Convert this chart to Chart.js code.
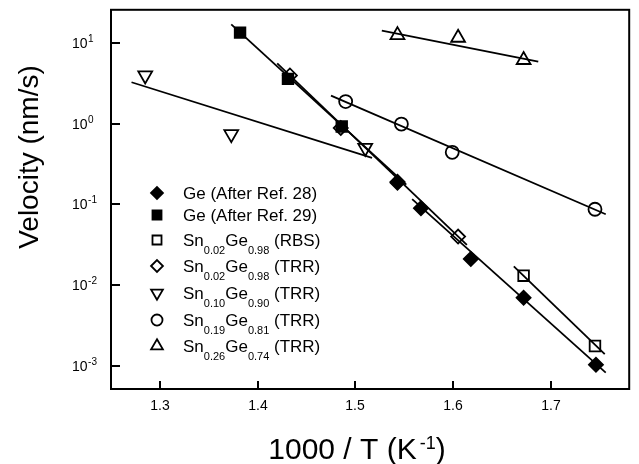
<!DOCTYPE html>
<html>
<head>
<meta charset="utf-8">
<script src="https://cdn.jsdelivr.net/npm/chart.js@4/dist/chart.umd.min.js"></script>
<style>
  html, body { margin: 0; padding: 0; background: #fff; }
  #wrap { width: 639px; height: 464px; position: relative; }
</style>
</head>
<body>
<div id="wrap"><canvas id="velChart"></canvas></div>
<script>
// --- 데이터 ---
const ge28X = [1.543, 1.567, 1.618, 1.672, 1.746];
const ge28Y = [0.19, 0.0895, 0.0211, 0.0070, 0.00104];
const ge29X = [1.382, 1.431, 1.486];
const ge29Y = [13.3, 3.57, 0.92];
const rbs02X = [1.672, 1.745];
const rbs02Y = [0.0131, 0.00177];
const trr02X = [1.433, 1.485, 1.543, 1.605];
const trr02Y = [3.93, 0.88, 0.185, 0.040];
const trr10X = [1.285, 1.373, 1.510];
const trr10Y = [3.93, 0.74, 0.50];
const trr19X = [1.490, 1.547, 1.599, 1.745];
const trr19Y = [1.87, 0.985, 0.44, 0.087];
const trr26X = [1.543, 1.605, 1.672];
const trr26Y = [12.4, 11.5, 6.1];

// 피팅 직선 (양 끝점)
const fit29X = [1.373, 1.552];   const fit29Y = [16.8, 0.175];
const fit28X = [1.558, 1.756];   const fit28Y = [0.116, 0.00083];
const fitRbsX = [1.662, 1.755];  const fitRbsY = [0.0171, 0.0014];
const fit02X = [1.420, 1.614];   const fit02Y = [5.56, 0.0315];
const fit10X = [1.271, 1.517];   const fit10Y = [3.24, 0.376];
const fit19X = [1.475, 1.756];   const fit19Y = [2.21, 0.0755];
const fit26X = [1.527, 1.687];   const fit26Y = [14.1, 5.84];

// 축 눈금
const xTicks = [1.3, 1.4, 1.5, 1.6, 1.7];
const yTickExp = [1, 0, -1, -2, -3];

// 범례 (_{...} = 아래첨자)
const legendLabels = [
  'Ge (After Ref. 28)',
  'Ge (After Ref. 29)',
  'Sn_{0.02}Ge_{0.98} (RBS)',
  'Sn_{0.02}Ge_{0.98} (TRR)',
  'Sn_{0.10}Ge_{0.90} (TRR)',
  'Sn_{0.19}Ge_{0.81} (TRR)',
  'Sn_{0.26}Ge_{0.74} (TRR)'
];

const FONT = '"Liberation Sans", Arial, Helvetica, sans-serif';
const pts = (xs, ys) => xs.map((x, i) => ({ x: x, y: ys[i] }));

// 마커 스타일
const markers = [
  { pointStyle: 'rectRot', radius: 7, rotation: 0, fill: true },
  { pointStyle: 'rect', radius: 7.5, rotation: 0, fill: true },
  { pointStyle: 'rect', radius: 7.5, rotation: 0, fill: false },
  { pointStyle: 'rectRot', radius: 7, rotation: 0, fill: false },
  { pointStyle: 'triangle', radius: 8, rotation: 180, fill: false },
  { pointStyle: 'circle', radius: 6.5, rotation: 0, fill: false },
  { pointStyle: 'triangle', radius: 8, rotation: 0, fill: false }
];
const pointSeries = [
  pts(ge28X, ge28Y), pts(ge29X, ge29Y), pts(rbs02X, rbs02Y), pts(trr02X, trr02Y),
  pts(trr10X, trr10Y), pts(trr19X, trr19Y), pts(trr26X, trr26Y)
];
const fitSeries = [
  pts(fit29X, fit29Y), pts(fit28X, fit28Y), pts(fitRbsX, fitRbsY), pts(fit02X, fit02Y),
  pts(fit10X, fit10Y), pts(fit19X, fit19Y), pts(fit26X, fit26Y)
];

const datasets = [];
fitSeries.forEach(d => {
  datasets.push({
    type: 'line', data: d, borderColor: '#000', borderWidth: 1.8,
    pointRadius: 0, fill: false, order: 2
  });
});
pointSeries.forEach((d, i) => {
  const m = markers[i];
  datasets.push({
    type: 'scatter', data: d,
    pointStyle: m.pointStyle, pointRadius: m.radius, pointRotation: m.rotation,
    pointBackgroundColor: m.fill ? '#000' : 'rgba(0,0,0,0)',
    pointBorderColor: '#000', pointBorderWidth: 1.8, order: 1
  });
});

// 아래첨자 포함 텍스트 그리기
function drawRichText(ctx, str, x, y, size, subSize, subDrop) {
  const parts = str.split(/(_\{[^}]*\})/).filter(s => s.length);
  parts.forEach(p => {
    if (p.startsWith('_{')) {
      const t = p.slice(2, -1);
      ctx.font = subSize + 'px ' + FONT;
      ctx.fillText(t, x, y + subDrop);
      x += ctx.measureText(t).width;
    } else {
      ctx.font = size + 'px ' + FONT;
      ctx.fillText(p, x, y);
      x += ctx.measureText(p).width;
    }
  });
}

const framePlugin = {
  id: 'frame',
  afterDraw(chart) {
    const { ctx, chartArea: { left, right, top, bottom } } = chart;
    const xs = chart.scales.x, ys = chart.scales.y;
    ctx.save();
    ctx.strokeStyle = '#000';
    ctx.fillStyle = '#000';
    ctx.lineWidth = 2;
    ctx.strokeRect(left, top, right - left, bottom - top);

    // x 눈금 (안쪽)
    ctx.textAlign = 'center';
    ctx.textBaseline = 'middle';
    ctx.font = '14px ' + FONT;
    xTicks.forEach(v => {
      const px = Math.round(xs.getPixelForValue(v));
      ctx.beginPath();
      ctx.moveTo(px, bottom);
      ctx.lineTo(px, bottom - 8);
      ctx.stroke();
      ctx.fillText(v.toFixed(1), px, bottom + 17);
    });

    // y 눈금 (안쪽) + 10^n 라벨
    ctx.textAlign = 'left';
    ctx.textBaseline = 'alphabetic';
    yTickExp.forEach(e => {
      const py = Math.round(ys.getPixelForValue(Math.pow(10, e)));
      ctx.beginPath();
      ctx.moveTo(left, py);
      ctx.lineTo(left + 9, py);
      ctx.stroke();
      ctx.font = '14px ' + FONT;
      ctx.fillText('10', 72, py + 5);
      const w = ctx.measureText('10').width;
      ctx.font = '10px ' + FONT;
      ctx.fillText(String(e), 72 + w + 0.5, py - 1.5);
    });

    // 축 제목
    ctx.font = '30px ' + FONT;
    const a = '1000 / T (K', b = '-1', c = ')';
    const wa = ctx.measureText(a).width, wc = ctx.measureText(c).width;
    ctx.font = '18px ' + FONT;
    const wb = ctx.measureText(b).width + 3;
    let tx = 357 - (wa + wb + wc) / 2;
    ctx.font = '30px ' + FONT;
    ctx.fillText(a, tx, 459);
    ctx.font = '18px ' + FONT;
    ctx.fillText(b, tx + wa + 3, 449);
    ctx.font = '30px ' + FONT;
    ctx.fillText(c, tx + wa + wb, 459);

    ctx.save();
    ctx.translate(30, 157);
    ctx.rotate(-Math.PI / 2);
    ctx.textAlign = 'center';
    ctx.textBaseline = 'middle';
    ctx.font = '28px ' + FONT;
    ctx.fillText('Velocity (nm/s)', 0, 0);
    ctx.restore();

    // 범례
    const rowY = [193, 215, 240, 266, 293, 320, 346];
    legendLabels.forEach((lab, i) => {
      const m = markers[i];
      ctx.fillStyle = m.fill ? '#000' : 'rgba(0,0,0,0)';
      ctx.strokeStyle = '#000';
      ctx.lineWidth = 1.8;
      Chart.helpers.drawPoint(ctx, {
        pointStyle: m.pointStyle, radius: m.radius * 0.85, rotation: m.rotation, borderWidth: 1.8
      }, 157, rowY[i]);
      ctx.fillStyle = '#000';
      ctx.textAlign = 'left';
      ctx.textBaseline = 'alphabetic';
      drawRichText(ctx, lab, 183, rowY[i] + 6, 17, 11, 8);
    });
    ctx.restore();
  }
};

new Chart(document.getElementById('velChart').getContext('2d'), {
  type: 'scatter',
  data: { datasets: datasets },
  options: {
    responsive: true,
    maintainAspectRatio: false,
    animation: false,
    layout: { padding: { left: 111, right: 3, top: 8, bottom: 75 } },
    plugins: { legend: { display: false }, tooltip: { enabled: false } },
    scales: {
      x: { type: 'linear', min: 1.25, max: 1.78, display: false },
      y: { type: 'logarithmic', min: 5.2e-4, max: 25.5, display: false }
    }
  },
  plugins: [framePlugin]
});
</script>
</body>
</html>
